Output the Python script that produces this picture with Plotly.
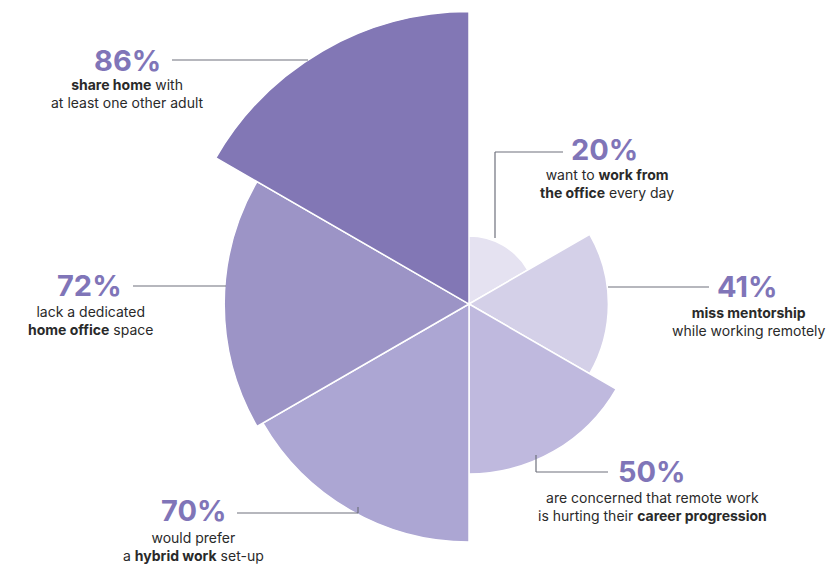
import plotly.graph_objects as go

# Survey results, clockwise from the top
values = [20, 41, 50, 70, 72, 86]
pct_labels = ["20%", "41%", "50%", "70%", "72%", "86%"]
descriptions = [
    "want to <b>work from</b><br><b>the office</b> every day",
    "<b>miss mentorship</b><br>while working remotely",
    "are concerned that remote work<br>is hurting their <b>career progression</b>",
    "would prefer<br>a <b>hybrid work</b> set-up",
    "lack a dedicated<br><b>home office</b> space",
    "<b>share home</b> with<br>at least one other adult",
]
colors = ["#e5e2f1", "#d4d0e8", "#bfb9de", "#aca6d3", "#9c94c6", "#8277b5"]

W, H = 829, 564
cx, cy = 469, 304          # centre of the rose, px
px_per_unit = 3.4          # radial scale, px per percentage point
R = 260                    # full-circle polar frame radius, px
R2 = 296                   # upper-left quadrant frame radius, px

sector = 360 / len(values)
thetas = [sector * i + sector / 2 for i in range(len(values))]

# wedges too long for the full-circle frame go in a quadrant frame sharing the same centre
main_idx = [i for i, v in enumerate(values) if v * px_per_unit <= R]
big_idx = [i for i, v in enumerate(values) if v * px_per_unit > R]

fig = go.Figure()
for idx, sub in ((main_idx, "polar"), (big_idx, "polar2")):
    fig.add_trace(go.Barpolar(
        r=[values[i] for i in idx], theta=[thetas[i] for i in idx],
        width=[sector] * len(idx), subplot=sub,
        marker=dict(color=[colors[i] for i in idx], line=dict(color="white", width=1.5)),
        hoverinfo="skip",
    ))

axis_common = dict(
    bgcolor="rgba(0,0,0,0)",
    angularaxis=dict(rotation=90, direction="clockwise", visible=False),
)
fig.update_layout(
    width=W, height=H, margin=dict(l=0, r=0, t=0, b=0),
    paper_bgcolor="white", plot_bgcolor="white", showlegend=False,
    polar=dict(
        domain=dict(x=[(cx - R) / W, (cx + R) / W],
                    y=[(H - cy - R) / H, (H - cy + R) / H]),
        radialaxis=dict(range=[0, R / px_per_unit], visible=False),
        **axis_common,
    ),
    polar2=dict(
        sector=[90, 180],
        domain=dict(x=[(cx - R2) / W, cx / W],
                    y=[(H - cy) / H, (H - cy + R2) / H]),
        radialaxis=dict(range=[0, R2 / px_per_unit], visible=False),
        **axis_common,
    ),
)

# label anchor positions (px): percent centre, description centre
label_pos = [
    ((604, 149), (607, 183)),
    ((747, 286), (748, 321)),
    ((652, 471), (652, 506)),
    ((193, 510), (193, 546)),
    ((89, 285), (90, 320)),
    ((128, 60), (128, 93)),
]

def px(x, y):
    return x / W, 1 - y / H

for pct, desc, ((px_x, px_y), (dx, dy)) in zip(pct_labels, descriptions, label_pos):
    x, y = px(px_x, px_y)
    fig.add_annotation(x=x, y=y, xref="paper", yref="paper", text=f"<b>{pct}</b>",
                       showarrow=False, xanchor="center", yanchor="middle",
                       font=dict(family="Inter", size=29, color="#8075b8"))
    x, y = px(dx, dy)
    fig.add_annotation(x=x, y=y, xref="paper", yref="paper", text=desc,
                       showarrow=False, xanchor="center", yanchor="middle", align="center",
                       font=dict(family="Inter", size=14, color="#2a2a2a"))

# leader lines (px polylines)
leaders = [
    [(563, 152), (495, 152), (495, 238)],
    [(608, 287), (709, 287)],
    [(536, 455), (536, 472), (608, 472)],
    [(237, 513), (358, 513), (358, 507)],
    [(133, 286), (226, 286)],
    [(172, 60), (308, 60)],
]
for pts in leaders:
    for (x0, y0), (x1, y1) in zip(pts[:-1], pts[1:]):
        a, b = px(x0, y0)
        c, d = px(x1, y1)
        fig.add_shape(type="line", xref="paper", yref="paper", x0=a, y0=b, x1=c, y1=d,
                      line=dict(color="#6e717c", width=1.2))

fig.write_html("out.html")
